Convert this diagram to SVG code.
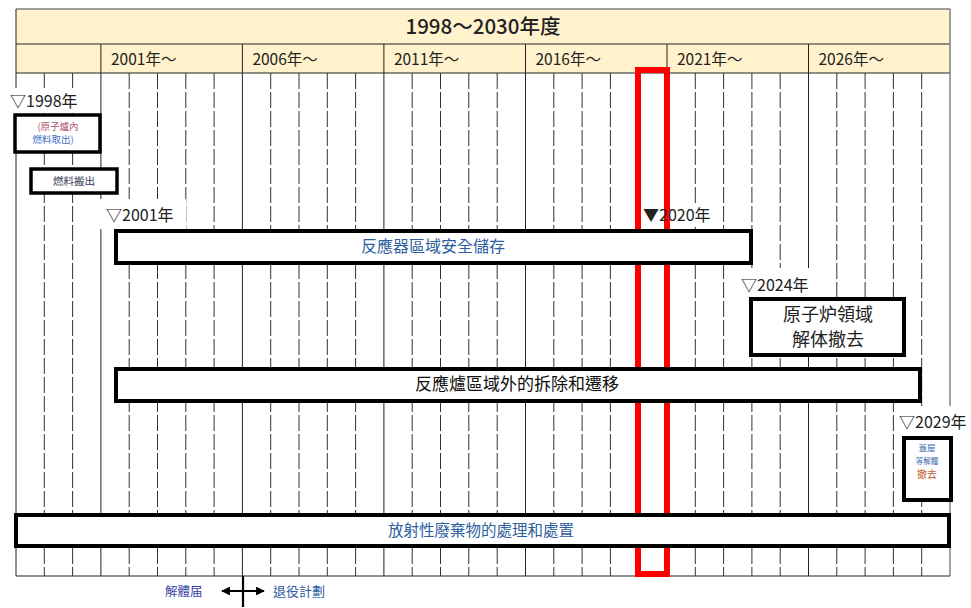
<svg xmlns="http://www.w3.org/2000/svg" width="971" height="608" viewBox="0 0 971 608">
<style>
text{font-family:"Noto Sans CJK TC","Noto Sans CJK JP","Noto Sans CJK SC",sans-serif;fill:#222}
.yr{font-size:15.5px}
.lbl{font-size:16px}
.box{fill:#fff;stroke:#000;stroke-width:4}
.g{stroke:#222;stroke-width:1}
.gd{stroke:#333;stroke-width:1;stroke-dasharray:16 3}
.bg{fill:#fff}
.c{text-anchor:middle}
</style>
<defs>
<marker id="ah" viewBox="0 0 10 10" refX="9" refY="5" markerWidth="4" markerHeight="4" orient="auto-start-reverse">
<path d="M0,0 L10,5 L0,10 z" fill="#000"/>
</marker>
</defs>
<rect width="971" height="608" fill="#fff"/>
<g id="header">
<rect x="16" y="9" width="934" height="64" fill="#fff2cc"/>
<line x1="16" y1="9" x2="950" y2="9" stroke="#7f7f7f" stroke-width="1.5"/>
<line x1="16" y1="44" x2="950" y2="44" class="g"/>
<line x1="16" y1="73" x2="950" y2="73" class="g"/>
<line x1="16" y1="9" x2="16" y2="73" class="g"/>
<line x1="950" y1="9" x2="950" y2="73" stroke="#7f7f7f" stroke-width="1.5"/>
<g class="g">
<line x1="100.9" y1="44" x2="100.9" y2="73"/>
<line x1="242.4" y1="44" x2="242.4" y2="73"/>
<line x1="383.9" y1="44" x2="383.9" y2="73"/>
<line x1="525.5" y1="44" x2="525.5" y2="73"/>
<line x1="667" y1="44" x2="667" y2="73"/>
<line x1="808.5" y1="44" x2="808.5" y2="73"/>
</g>
<text x="483" y="34" class="c" style="font-size:20.5px;font-weight:500">1998～2030年度</text>
<text x="111" y="65" class="yr">2001年～</text>
<text x="252.4" y="65" class="yr">2006年～</text>
<text x="393.9" y="65" class="yr">2011年～</text>
<text x="535.5" y="65" class="yr">2016年～</text>
<text x="677" y="65" class="yr">2021年～</text>
<text x="818.5" y="65" class="yr">2026年～</text>
</g>
<g id="grid">
<g class="g">
<line x1="16" y1="73" x2="16" y2="576"/>
<line x1="100.9" y1="73" x2="100.9" y2="576"/>
<line x1="242.4" y1="73" x2="242.4" y2="576"/>
<line x1="383.9" y1="73" x2="383.9" y2="576"/>
<line x1="525.5" y1="73" x2="525.5" y2="576"/>
<line x1="667" y1="73" x2="667" y2="576"/>
<line x1="808.5" y1="73" x2="808.5" y2="576"/>
<line x1="16" y1="576" x2="950" y2="576"/>
</g>
<line x1="950" y1="73" x2="950" y2="576" stroke="#666" stroke-width="1.2"/>
<g class="gd">
<line x1="44.3" y1="73" x2="44.3" y2="576"/>
<line x1="72.6" y1="73" x2="72.6" y2="576"/>
<line x1="129.2" y1="73" x2="129.2" y2="576"/>
<line x1="157.5" y1="73" x2="157.5" y2="576"/>
<line x1="185.8" y1="73" x2="185.8" y2="576"/>
<line x1="214.1" y1="73" x2="214.1" y2="576"/>
<line x1="270.7" y1="73" x2="270.7" y2="576"/>
<line x1="299" y1="73" x2="299" y2="576"/>
<line x1="327.3" y1="73" x2="327.3" y2="576"/>
<line x1="355.6" y1="73" x2="355.6" y2="576"/>
<line x1="412.2" y1="73" x2="412.2" y2="576"/>
<line x1="440.5" y1="73" x2="440.5" y2="576"/>
<line x1="468.8" y1="73" x2="468.8" y2="576"/>
<line x1="497.2" y1="73" x2="497.2" y2="576"/>
<line x1="553.8" y1="73" x2="553.8" y2="576"/>
<line x1="582.1" y1="73" x2="582.1" y2="576"/>
<line x1="610.4" y1="73" x2="610.4" y2="576"/>
<line x1="638.7" y1="73" x2="638.7" y2="576"/>
<line x1="695.3" y1="73" x2="695.3" y2="576"/>
<line x1="723.6" y1="73" x2="723.6" y2="576"/>
<line x1="751.9" y1="73" x2="751.9" y2="576"/>
<line x1="780.2" y1="73" x2="780.2" y2="576"/>
<line x1="836.8" y1="73" x2="836.8" y2="576"/>
<line x1="865.1" y1="73" x2="865.1" y2="576"/>
<line x1="893.4" y1="73" x2="893.4" y2="576"/>
<line x1="921.7" y1="73" x2="921.7" y2="576"/>
</g>
</g>
<g id="label-bgs">
<rect class="bg" x="8" y="88" width="76" height="25"/>
<rect class="bg" x="100" y="199" width="86" height="30"/>
<rect class="bg" x="641" y="203" width="74" height="24"/>
<rect class="bg" x="739" y="268" width="73" height="29"/>
<rect class="bg" x="896" y="406" width="72" height="30"/>
</g>
<g id="highlight-2020">
<rect x="638" y="70" width="29" height="504" fill="none" stroke="#ff0000" stroke-width="6"/>
</g>
<g id="milestones">
<text x="10" y="107" class="lbl">▽1998年</text>
<text x="106" y="221" class="lbl">▽2001年</text>
<text x="643" y="221" class="lbl">▼2020年</text>
<text x="741" y="291" class="lbl">▽2024年</text>
<text x="899" y="428" class="lbl">▽2029年</text>
</g>
<g id="node-fuel-removal">
<rect class="box" x="15" y="115" width="85" height="37" style="stroke-width:3.5"/>
<text x="58" y="130" class="c" style="font-size:9.5px;fill:#b3546e">(原子爐內</text>
<text x="53" y="143" class="c" style="font-size:9.5px;fill:#4472c4">燃料取出)</text>
</g>
<g id="node-fuel-transport">
<rect class="box" x="31" y="169" width="86" height="24" style="stroke-width:3.5"/>
<text x="74" y="185" class="c" style="font-size:10.5px;fill:#3a3a5a">燃料搬出</text>
</g>
<g id="node-safe-storage">
<rect class="box" x="116" y="231" width="635" height="32"/>
<text x="433" y="252" class="c" style="font-size:16px;fill:#2e5e9e">反應器區域安全儲存</text>
</g>
<g id="node-reactor-dismantle">
<rect class="box" x="751" y="299" width="153" height="56"/>
<text x="828" y="321" class="c" style="font-size:18px">原子炉領域</text>
<text x="828" y="346" class="c" style="font-size:18px">解体撤去</text>
</g>
<g id="node-outside-dismantle">
<rect class="box" x="116" y="369" width="804" height="32"/>
<text x="517" y="390" class="c" style="font-size:17px;fill:#111">反應爐區域外的拆除和遷移</text>
</g>
<g id="node-building-removal">
<rect class="box" x="904" y="438" width="47" height="62"/>
<text x="927" y="451" class="c" style="font-size:8.5px;fill:#3e6fb0">蓋屋</text>
<text x="927" y="464" class="c" style="font-size:7.5px;fill:#3e6fb0">等解體</text>
<text x="927" y="478" class="c" style="font-size:10px;fill:#c0622f">撤去</text>
</g>
<g id="node-waste">
<rect class="box" x="16" y="515" width="933" height="31"/>
<text x="481" y="536" class="c" style="font-size:15.5px;fill:#2e5e9e">放射性廢棄物的處理和處置</text>
</g>
<g id="connectors">
<line x1="222" y1="591" x2="264" y2="591" stroke="#000" stroke-width="2.2" marker-start="url(#ah)" marker-end="url(#ah)"/>
<line x1="243" y1="576" x2="243" y2="607" stroke="#000" stroke-width="2.2"/>
</g>
<g id="legend">
<text x="165" y="596" style="font-size:12.5px;fill:#3b46a3">解體届</text>
<text x="273" y="596" style="font-size:13px;fill:#2c5aa0">退役計劃</text>
</g>
</svg>
